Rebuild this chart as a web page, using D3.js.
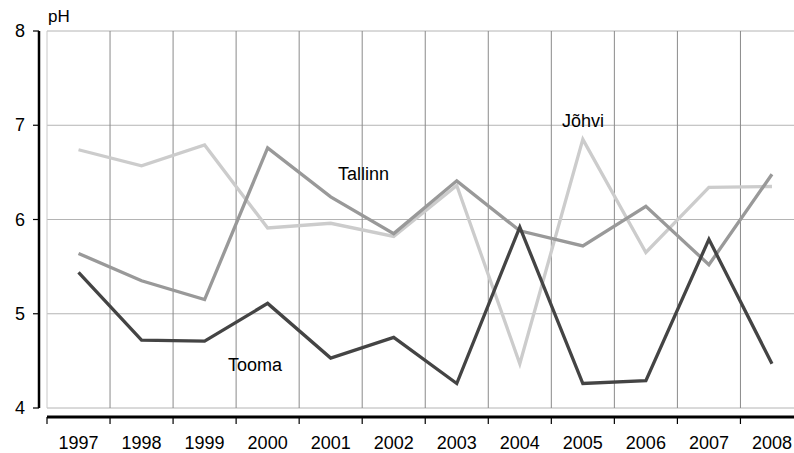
<!DOCTYPE html>
<html>
<head>
<meta charset="utf-8">
<script src="https://cdn.jsdelivr.net/npm/d3@7"></script>
<style>
  body { margin: 0; background: #fff; }
  text { font-family: "Liberation Sans", Arial, sans-serif; fill: #000; }
</style>
</head>
<body>
<script>
const years = ["1997","1998","1999","2000","2001","2002","2003","2004","2005","2006","2007","2008"];
const johvi   = [6.74, 6.57, 6.79, 5.91, 5.96, 5.82, 6.36, 4.47, 6.85, 5.65, 6.34, 6.35];
const tallinn = [5.64, 5.35, 5.15, 6.76, 6.24, 5.85, 6.41, 5.88, 5.72, 6.14, 5.52, 6.48];
const tooma   = [5.44, 4.72, 4.71, 5.11, 4.53, 4.75, 4.26, 5.92, 4.26, 4.29, 5.79, 4.47];
const yTicks = [4, 5, 6, 7, 8];

const width = 794, height = 453;
const plotLeft = 47, plotTop = 31, plotBottom = 408;
const band = 63.04;

const svg = d3.select("body").append("svg")
    .attr("width", width)
    .attr("height", height);

const x = d3.scaleBand()
    .domain(years)
    .range([plotLeft, plotLeft + band * years.length]);

const y = d3.scaleLinear()
    .domain([4, 8])
    .range([plotBottom, plotTop]);

// horizontal grid
svg.append("g").selectAll("line")
    .data(yTicks)
    .enter().append("line")
    .attr("x1", plotLeft).attr("x2", width)
    .attr("y1", d => y(d)).attr("y2", d => y(d))
    .style("stroke", "#b4b4b4")
    .style("stroke-width", 1);

// vertical grid at band edges
svg.append("g").selectAll("line")
    .data(years)
    .enter().append("line")
    .attr("x1", d => x(d)).attr("x2", d => x(d))
    .attr("y1", plotTop).attr("y2", plotBottom)
    .style("stroke", (d, i) => i === 0 ? "#c8c8c8" : "#8a8a8a")
    .style("stroke-width", 1);

// y axis
const yAxis = svg.append("g");
yAxis.append("line")
    .attr("x1", 39).attr("x2", 39)
    .attr("y1", y(8)).attr("y2", y(4))
    .style("stroke", "#000").style("stroke-width", 2.5);
yAxis.selectAll("line.tick")
    .data(yTicks)
    .enter().append("line")
    .attr("class", "tick")
    .attr("x1", 33).attr("x2", 39)
    .attr("y1", d => y(d)).attr("y2", d => y(d))
    .style("stroke", "#000").style("stroke-width", 1.2);
yAxis.selectAll("text")
    .data(yTicks)
    .enter().append("text")
    .attr("x", 25)
    .attr("y", d => y(d) + 6)
    .attr("text-anchor", "end")
    .style("font-size", "18px")
    .text(d => d);

svg.append("text")
    .attr("x", 48).attr("y", 22)
    .style("font-size", "17px")
    .text("pH");

// x axis
const xAxis = svg.append("g");
xAxis.append("line")
    .attr("x1", plotLeft).attr("x2", width)
    .attr("y1", 417).attr("y2", 417)
    .style("stroke", "#000").style("stroke-width", 3);
xAxis.selectAll("line.tick")
    .data(years)
    .enter().append("line")
    .attr("class", "tick")
    .attr("x1", d => x(d)).attr("x2", d => x(d))
    .attr("y1", 417).attr("y2", 424)
    .style("stroke", "#000").style("stroke-width", 1.2);
xAxis.selectAll("text")
    .data(years)
    .enter().append("text")
    .attr("x", d => x(d) + x.bandwidth() / 2)
    .attr("y", 449)
    .attr("text-anchor", "middle")
    .style("font-size", "18px")
    .text(d => d);

// series
const line = d3.line()
    .x((d, i) => x(years[i]) + x.bandwidth() / 2)
    .y(d => y(d));

const series = [
    { name: "Jõhvi", values: johvi, color: "#cccccc" },
    { name: "Tallinn", values: tallinn, color: "#999999" },
    { name: "Tooma", values: tooma, color: "#444444" }
];

svg.append("g").selectAll("path")
    .data(series)
    .enter().append("path")
    .attr("d", d => line(d.values))
    .style("fill", "none")
    .style("stroke", d => d.color)
    .style("stroke-width", 3.3)
    .style("stroke-linejoin", "miter");

// labels
const labels = [
    { text: "Tallinn", x: 338, y: 180 },
    { text: "Jõhvi", x: 562, y: 127 },
    { text: "Tooma", x: 228, y: 371 }
];
svg.append("g").selectAll("text")
    .data(labels)
    .enter().append("text")
    .attr("x", d => d.x).attr("y", d => d.y)
    .style("font-size", "18px")
    .text(d => d.text);
</script>
</body>
</html>
